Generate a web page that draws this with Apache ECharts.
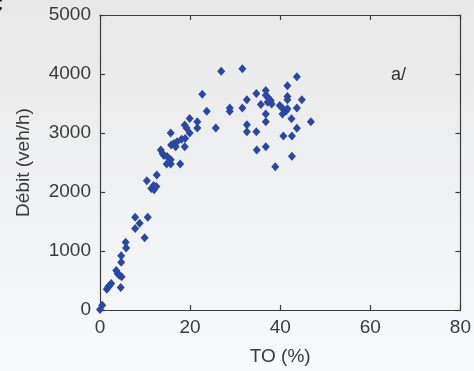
<!DOCTYPE html>
<html>
<head>
<meta charset="utf-8">
<script src="https://cdn.jsdelivr.net/npm/echarts@6/dist/echarts.min.js"></script>
<style>
html,body{margin:0;padding:0;}
#c{width:474px;height:371px;}
</style>
</head>
<body>
<div id="c"></div>
<script>
// TO (%) values
var toPct = [
  0, 0.5, 1.5, 1.8, 2.1, 2.5, 4.6, 3.6, 3.9, 4.3, 4.8, 4.7, 4.7, 5.8, 5.7, 7.8, 7.8, 8.8, 9.9, 10.6,
  10.4, 11.4, 11.9, 12.0, 12.5, 12.6,
  13.5, 13.9, 14.2, 14.9, 15.7, 14.8, 15.7, 17.8, 15.8, 16.4, 17.1, 18.1, 18.9, 16.8, 18.8, 15.7,
  19.9, 18.8, 19.2, 19.9, 21.6, 21.6, 22.7, 23.7, 25.7, 26.9, 31.6, 28.8, 28.8, 31.6,
  32.6, 34.7, 36.8, 36.8, 37.3, 37.9, 37.2, 38.1, 35.7, 36.8, 36.8, 32.6, 32.6, 34.7, 34.8, 36.8,
  38.9, 43.7, 41.6, 41.6, 41.6, 44.8, 39.9, 40.6, 41.3, 41.6, 40.5, 43.7, 42.5, 46.8, 43.7, 40.7,
  42.6, 42.6
];
// Débit (veh/h) values
var debit = [
  10, 80, 350, 390, 410, 450, 380, 670, 620, 590, 565, 810, 920, 1050, 1150, 1380, 1570, 1470, 1225, 1570,
  2190, 2060, 2110, 2040, 2095, 2290,
  2710, 2650, 2620, 2600, 2545, 2475, 2475, 2475, 2795, 2820, 2850, 2895, 2905, 2765, 2765, 3000,
  3000, 3135, 3085, 3245, 3190, 3085, 3655, 3370, 3085, 4045, 4090, 3425, 3370, 3425,
  3565, 3670, 3720, 3640, 3600, 3550, 3520, 3490, 3485, 3320, 3190, 3140, 3020, 3020, 2710, 2765,
  2430, 3955, 3800, 3620, 3565, 3565, 3465, 3410, 3375, 3410, 3320, 3425, 3240, 3190, 3080, 2950,
  2950, 2605
];
var xTicks = [0, 20, 40, 60, 80];
var yTicks = [0, 1000, 2000, 3000, 4000, 5000];
var xName = 'TO (%)';
var yName = 'Débit (veh/h)';
var panelLabel = 'a/';

var points = toPct.map(function (v, i) { return [v, debit[i]]; });

var chart = echarts.init(document.getElementById('c'), null, {renderer: 'canvas'});
var font = 'Arial, "Liberation Sans", sans-serif';
var lineCol = '#3c3c3c';
var textCol = '#3a3a3a';
function plain(v) { return String(v); }
function baseAxis(extra) {
  var a = {
    axisLine: {show: true, onZero: false, lineStyle: {color: lineCol, width: 1.2}},
    axisTick: {show: true, inside: true, length: 5, lineStyle: {color: lineCol, width: 1.2}},
    splitLine: {show: false},
    axisLabel: {show: false}
  };
  for (var k in extra) a[k] = extra[k];
  return a;
}
chart.setOption({
  backgroundColor: {
    type: 'linear', x: 0, y: 0, x2: 0, y2: 1,
    colorStops: [{offset: 0, color: '#e8e8e8'}, {offset: 1, color: '#f8f9fc'}]
  },
  animation: false,
  grid: {left: 100, right: 8, top: 15, bottom: 57.5, containLabel: false},
  xAxis: [
    baseAxis({
      type: 'value', position: 'bottom', min: xTicks[0], max: xTicks[xTicks.length - 1],
      interval: xTicks[1] - xTicks[0],
      name: xName, nameLocation: 'middle', nameGap: 37,
      nameTextStyle: {fontFamily: font, fontSize: 19, color: textCol},
      axisLabel: {show: true, margin: 8, fontFamily: font, fontSize: 19, color: textCol, formatter: plain}
    }),
    baseAxis({
      type: 'value', position: 'top', min: xTicks[0], max: xTicks[xTicks.length - 1],
      interval: xTicks[1] - xTicks[0]
    })
  ],
  yAxis: [
    baseAxis({
      type: 'value', position: 'left', min: yTicks[0], max: yTicks[yTicks.length - 1],
      interval: yTicks[1] - yTicks[0],
      name: yName, nameLocation: 'middle', nameGap: 67, nameRotate: 90,
      nameTextStyle: {fontFamily: font, fontSize: 19, color: textCol},
      axisLabel: {show: true, margin: 9, fontFamily: font, fontSize: 19, color: textCol, formatter: plain}
    }),
    baseAxis({
      type: 'value', position: 'right', min: yTicks[0], max: yTicks[yTicks.length - 1],
      interval: yTicks[1] - yTicks[0]
    })
  ],
  graphic: [
    {type: 'text', left: 391, top: 66, style: {text: panelLabel, font: '18px ' + font, fill: '#333'}},
    {type: 'text', left: -13, top: -5, style: {text: 'C', font: 'bold 22px ' + font, fill: '#000'}}
  ],
  series: [{
    type: 'scatter',
    xAxisIndex: 0, yAxisIndex: 0,
    symbol: 'diamond',
    symbolSize: [8, 9],
    itemStyle: {color: '#2a47a3', opacity: 1},
    data: points
  }]
});
</script>
</body>
</html>
